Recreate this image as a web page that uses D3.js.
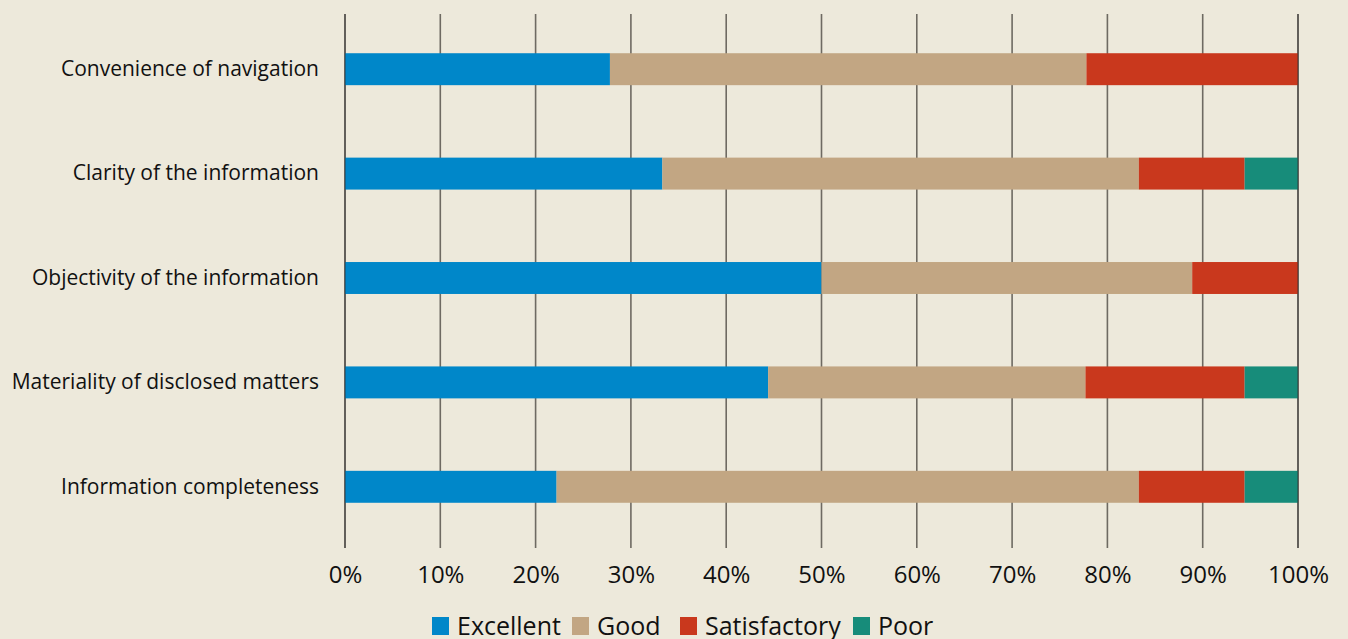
<!DOCTYPE html>
<html>
<head>
<meta charset="utf-8">
<script src="https://cdn.jsdelivr.net/npm/d3@7"></script>
<style>
  body { margin: 0; background: #ede9db; }
  svg { display: block; }
  text { font-family: "Open Sans", sans-serif; fill: #111; }
</style>
</head>
<body>
<svg id="chart"></svg>
<script>
const categories = [
    "Convenience of navigation",
    "Clarity of the information",
    "Objectivity of the information",
    "Materiality of disclosed matters",
    "Information completeness"
];
const seriesNames = ["Excellent", "Good", "Satisfactory", "Poor"];
const excellent = [27.8, 33.3, 50.0, 44.4, 22.2];
const good = [50.0, 50.0, 38.9, 33.3, 61.1];
const satisfactory = [22.2, 11.1, 11.1, 16.7, 11.1];
const poor = [0, 5.6, 0, 5.6, 5.6];
const ticks = [0, 10, 20, 30, 40, 50, 60, 70, 80, 90, 100];

const colors = ["#0087c9", "#c2a683", "#c9381d", "#178c7a"];

const width = 1348;
const height = 639;
let svg = d3.select("#chart").attr("width", width).attr("height", height);

// rows of data for the stack
let rows = categories.map((c, i) => ({
    cat: c,
    Excellent: excellent[i],
    Good: good[i],
    Satisfactory: satisfactory[i],
    Poor: poor[i]
}));
let stacked = d3.stack().keys(seriesNames)(rows);

let scX = d3.scaleLinear().domain([0, 100]).range([345, 1298]);
let scY = d3.scaleBand().domain(categories).range([17, 539])
    .paddingInner(0.694).paddingOuter(0.347);

// grid lines
svg.append("g").selectAll("line").data(ticks).enter().append("line")
    .attr("x1", d => scX(d)).attr("x2", d => scX(d))
    .attr("y1", 14).attr("y2", 548)
    .attr("stroke", "#6e6a62").attr("stroke-width", 1.6);

// bars
svg.append("g").selectAll("g").data(stacked).enter().append("g")
    .attr("fill", (d, i) => colors[i])
    .selectAll("rect").data(d => d).enter().append("rect")
    .attr("x", d => scX(d[0]))
    .attr("y", d => scY(d.data.cat))
    .attr("width", d => scX(d[1]) - scX(d[0]))
    .attr("height", scY.bandwidth());

// edge lines over bars
svg.append("g").selectAll("line").data([0, 100]).enter().append("line")
    .attr("x1", d => scX(d)).attr("x2", d => scX(d))
    .attr("y1", 14).attr("y2", 548)
    .attr("stroke", "#333")
    .attr("stroke-opacity", 0.55).attr("stroke-width", 1.6);

// x tick labels
let axisX = d3.axisBottom(scX).tickValues(ticks).tickFormat(d => d + "%").tickSize(0).tickPadding(0);
let gx = svg.append("g").attr("transform", "translate(0, 566)").call(axisX);
gx.select(".domain").remove();
gx.selectAll("text").attr("font-size", 24).attr("font-family", "Open Sans").attr("fill", "#111");

// category labels
let axisY = d3.axisLeft(scY).tickSize(0).tickPadding(0);
let gy = svg.append("g").attr("transform", "translate(319, 0)").call(axisY);
gy.select(".domain").remove();
gy.selectAll("text").attr("font-size", 21).attr("font-family", "Open Sans").attr("fill", "#111");

// legend
const legendX = [432, 572, 680, 853];
let lg = svg.append("g").selectAll("g").data(seriesNames).enter().append("g")
    .attr("transform", (d, i) => `translate(${legendX[i]}, 617)`);
lg.append("rect").attr("width", 17).attr("height", 18).attr("fill", (d, i) => colors[i]);
lg.append("text").attr("x", 25).attr("y", 18).attr("font-size", 25).text(d => d);
</script>
</body>
</html>
